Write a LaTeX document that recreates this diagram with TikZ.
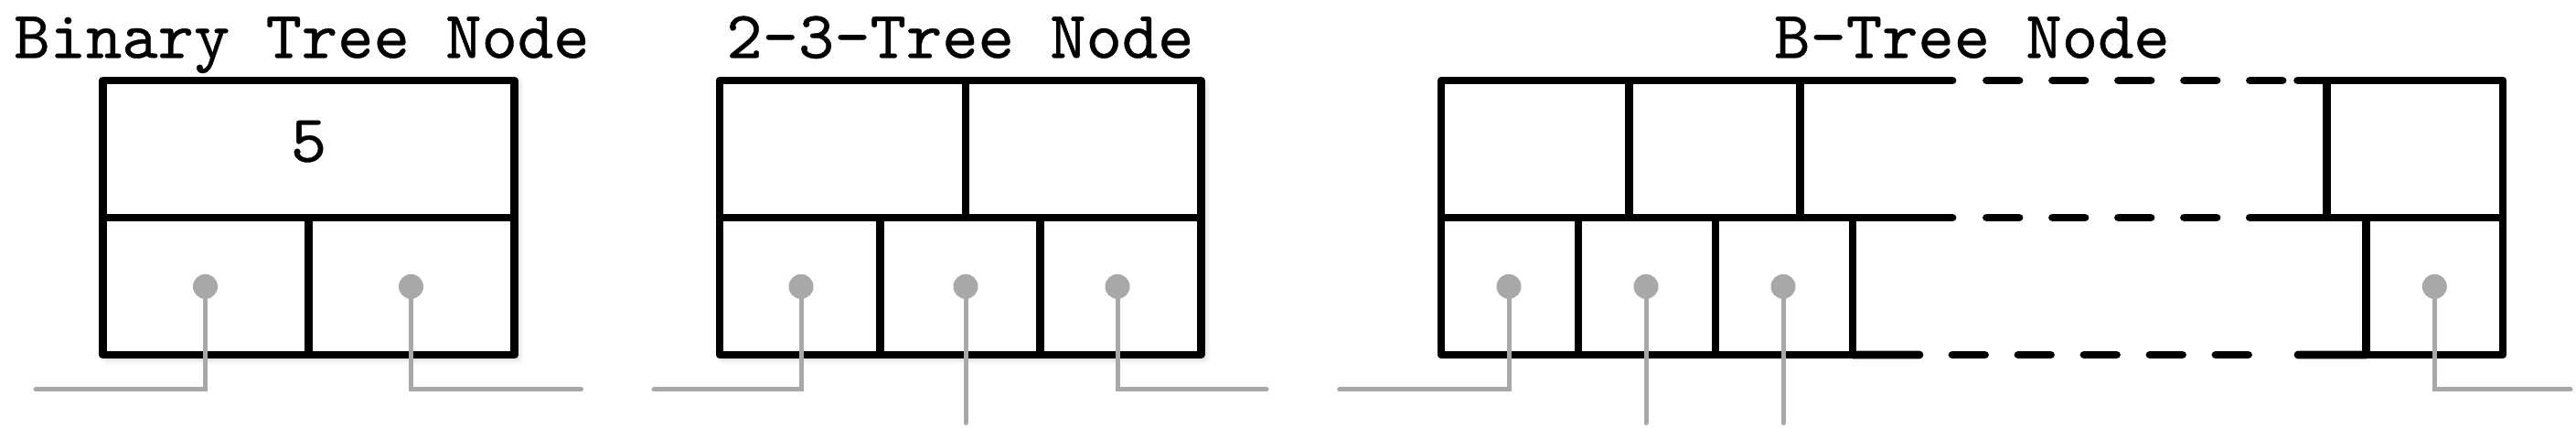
\documentclass[tikz,border=0pt]{standalone}
\usepackage{fontspec}
\newfontfamily\nodeFont{lmmono10-regular.otf}[FakeStretch=1.02, FakeBold=0.5]
\usepackage{tikz}
\usetikzlibrary{positioning, calc, backgrounds, shadows.blur}
\usepackage{xcolor}

\definecolor{ptrGray}{RGB}{168,168,168}

\tikzset{
    cell/.style={draw, line width=0.088cm, line join=round, fill=white,
        inner sep=0pt, outer sep=0pt, minimum height=1.5cm, anchor=north west},
    boxEdge/.style={line width=0.088cm, line cap=round},
    boxDash/.style={boxEdge, dash pattern=on 0.355cm off 0.365cm},
    ptrDot/.style={circle, fill=ptrGray, inner sep=0pt, minimum size=0.27cm},
    ptrLine/.style={ptrGray, line width=0.05cm, line cap=round},
    titleText/.style={anchor=base, inner sep=0pt, font=\fontsize{20.9}{25}\selectfont\nodeFont},
    softShadow/.style={blur shadow={shadow xshift=1pt, shadow yshift=-1pt,
        shadow blur radius=2pt, shadow opacity=25}},
}

\begin{document}
\begin{tikzpicture}
    % Page size of the reference
    \useasboundingbox (0,0) rectangle (28.17,4.68);

    % Common heights
    \def\rowTop{3.80}
    \def\rowMid{2.30}
    \def\rowBot{0.80}
    \def\dotY{1.547}  % height of the pointer dots
    \def\endY{0.42}   % height of the bent pointer ends

    % Binary tree node
    \node[titleText] (binTitle) at (3.30,4.047) {Binary Tree Node};
    \node[cell, minimum width=4.5cm] (binKey) at (1.125,\rowTop) {};
    \node[cell, minimum width=2.25cm] (binLeft) at (1.125,\rowMid) {};
    \node[cell, minimum width=2.25cm] (binRight) at (3.375,\rowMid) {};
    \node[titleText] (binVal) at (3.375,2.913) {5};
    \begin{pgfonlayer}{background}
        \path[softShadow] (binKey.north west) rectangle (binRight.south east);
    \end{pgfonlayer}

    % 2-3 tree node
    \node[titleText] (ttTitle) at (10.50,4.047) {2-3-Tree Node};
    \node[cell, minimum width=2.69cm] (ttKeyA) at (7.87,\rowTop) {};
    \node[cell, minimum width=2.572cm] (ttKeyB) at (10.56,\rowTop) {};
    \foreach \i in {0,1,2} {
        \node[cell, minimum width=1.754cm] (ttCell\i) at ({7.87+\i*1.754},\rowMid) {};
    }
    \begin{pgfonlayer}{background}
        \path[softShadow] (ttKeyA.north west) rectangle (ttCell2.south east);
    \end{pgfonlayer}

    % B-tree node, left part
    \node[titleText] (bTitle) at (21.565,4.047) {B-Tree Node};
    \node[cell, minimum width=2.057cm] (bKeyA) at (15.76,\rowTop) {};
    \node[cell, minimum width=1.866cm] (bKeyB) at (bKeyA.north east) {};
    \foreach \i in {0,1,2} {
        \node[cell, minimum width=1.5cm] (bCell\i) at ({15.76+\i*1.5},\rowMid) {};
    }

    % B-tree node, right part
    \node[cell, minimum width=1.927cm] (bKeyN) at (25.443,\rowTop) {};
    \node[cell, minimum width=1.497cm] (bCellN) at (25.873,\rowMid) {};

    % B-tree node, open middle
    \draw[boxEdge] (bKeyB.north east) -- (21.35,\rowTop);
    \draw[boxDash] (21.725,\rowTop) -- (24.96,\rowTop);
    \draw[boxEdge] (25.126,\rowTop) -- (bKeyN.north west);
    \draw[boxEdge] (bKeyB.south east) -- (21.35,\rowMid);
    \draw[boxDash] (21.725,\rowMid) -- (24.24,\rowMid);
    \draw[boxEdge] (24.603,\rowMid) -- (bKeyN.south west);
    \draw[boxEdge] (bCell2.south east) -- (20.99,\rowBot);
    \draw[boxDash] (21.35,\rowBot) -- (24.585,\rowBot);
    \draw[boxEdge] (25.13,\rowBot) -- (bCellN.south west);

    % Pointer dots
    \node[ptrDot] (binP0) at (2.245,\dotY) {};
    \node[ptrDot] (binP1) at (4.495,\dotY) {};
    \node[ptrDot] (ttP0) at (8.76,\dotY) {};
    \node[ptrDot] (ttP1) at (10.56,\dotY) {};
    \node[ptrDot] (ttP2) at (12.22,\dotY) {};
    \node[ptrDot] (bP0) at (16.50,\dotY) {};
    \node[ptrDot] (bP1) at (18.00,\dotY) {};
    \node[ptrDot] (bP2) at (19.50,\dotY) {};
    \node[ptrDot] (bPN) at (26.623,\dotY) {};

    % Free ends of the pointers
    \coordinate (binE0) at (0.39,\endY);
    \coordinate (binE1) at (6.355,\endY);
    \coordinate (ttE0) at (7.15,\endY);
    \coordinate (ttE1) at (10.56,0.055);
    \coordinate (ttE2) at (13.85,\endY);
    \coordinate (bE0) at (14.647,\endY);
    \coordinate (bE1) at (18.00,0.055);
    \coordinate (bE2) at (19.50,0.055);
    \coordinate (bEN) at (28.11,\endY);

    % Pointers
    \draw[ptrLine] (binP0.center) |- (binE0);
    \draw[ptrLine] (binP1.center) |- (binE1);
    \draw[ptrLine] (ttP0.center) |- (ttE0);
    \draw[ptrLine] (ttP1.center) -- (ttE1);
    \draw[ptrLine] (ttP2.center) |- (ttE2);
    \draw[ptrLine] (bP0.center) |- (bE0);
    \draw[ptrLine] (bP1.center) -- (bE1);
    \draw[ptrLine] (bP2.center) -- (bE2);
    \draw[ptrLine] (bPN.center) |- (bEN);
\end{tikzpicture}
\end{document}
